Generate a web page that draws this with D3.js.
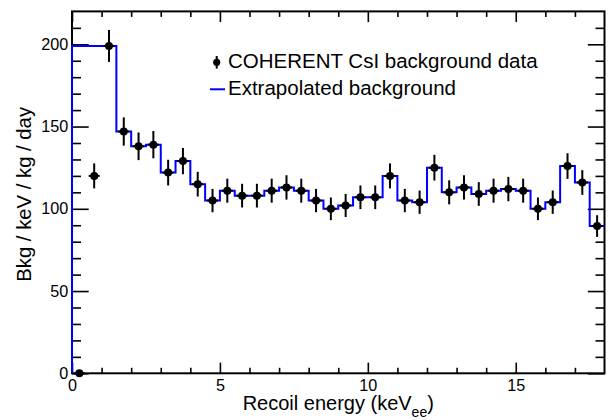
<!DOCTYPE html>
<html>
<head>
<meta charset="utf-8">
<script src="https://cdn.jsdelivr.net/npm/d3@7"></script>
<style>
  html, body { margin: 0; padding: 0; background: #fff; }
  svg { display: block; font-family: "Liberation Sans", Arial, Helvetica, sans-serif; }
</style>
</head>
<body>
<svg id="chart" width="615" height="420"></svg>
<script>
// Bin centres (keV_ee), 0.5 keV wide bins
const energies = [0.25, 0.75, 1.25, 1.75, 2.25, 2.75, 3.25, 3.75, 4.25, 4.75,
                  5.25, 5.75, 6.25, 6.75, 7.25, 7.75, 8.25, 8.75, 9.25, 9.75,
                  10.25, 10.75, 11.25, 11.75, 12.25, 12.75, 13.25, 13.75, 14.25, 14.75,
                  15.25, 15.75, 16.25, 16.75, 17.25, 17.75];
const binWidth = 0.5;

// Measured CsI background rate (Bkg / keV / kg / day) and its uncertainty
const dataRate = [0, 120, 199, 147, 138, 139, 122, 129, 115, 105,
                  111, 108, 108, 111, 113, 111, 105, 100, 102, 107,
                  107, 120, 105, 104, 125, 110, 113, 109, 111, 112,
                  111, 100, 104, 126, 116, 89.5];
const dataErr  = [0, 7.6, 9.7, 8.6, 8.4, 8.3, 7.8, 8.0, 7.5, 7.1,
                  7.3, 7.2, 7.2, 7.3, 7.4, 7.3, 7.1, 6.9, 7.0, 7.2,
                  7.2, 7.6, 7.1, 7.1, 7.8, 7.3, 7.4, 7.2, 7.3, 7.4,
                  7.3, 6.9, 7.1, 7.8, 7.5, 6.6];

// Extrapolated background histogram (flat below 1.5 keV)
const extrapRate = [199, 199, 199, 147, 138, 139, 122, 129, 115, 105,
                    111, 108, 108, 111, 113, 111, 105, 100, 102, 107,
                    107, 120, 105, 104, 125, 110, 113, 109, 111, 112,
                    111, 100, 104, 126, 116, 89.5];

// Axis ticks
const xMajorTicks = [0, 5, 10, 15];
const xMinorTicks = [1, 2, 3, 4, 6, 7, 8, 9, 11, 12, 13, 14, 16, 17];
const yMajorTicks = [0, 50, 100, 150, 200];
const yMinorTicks = [10, 20, 30, 40, 60, 70, 80, 90, 110, 120, 130, 140, 160, 170, 180, 190, 210];

const legendLabels = ["COHERENT CsI background data", "Extrapolated background"];

const svg = d3.select("#chart");
const frameL = 72, frameR = 604.5, frameT = 11.4, frameB = 373.3;

const x = d3.scaleLinear().domain([0, 18]).range([frameL, frameR]);
const y = d3.scaleLinear().domain([0, 220]).range([frameB, frameT]);

const font = "'Liberation Sans', Arial, Helvetica, sans-serif";

// Frame
svg.append("rect")
  .attr("x", frameL).attr("y", frameT)
  .attr("width", frameR - frameL).attr("height", frameB - frameT)
  .attr("fill", "none").attr("stroke", "#000").attr("stroke-width", 2);

function styleAxis(g) {
  g.select(".domain").remove();
  g.selectAll(".tick line").attr("stroke", "#000").attr("stroke-width", 1.6);
  g.selectAll("text").attr("font-family", font).attr("font-size", 16.2).attr("fill", "#000");
}

// Bottom axis: major + minor ticks pointing into the frame
svg.append("g").attr("transform", `translate(0,${frameB})`)
  .call(d3.axisBottom(x).tickValues(xMajorTicks).tickSize(-10.7).tickPadding(6.6).tickFormat(d3.format("d")))
  .call(styleAxis);
svg.append("g").attr("transform", `translate(0,${frameB})`)
  .call(d3.axisBottom(x).tickValues(xMinorTicks).tickSize(-5.5).tickFormat(""))
  .call(styleAxis);

// Top mirrored ticks
svg.append("g").attr("transform", `translate(0,${frameT})`)
  .call(d3.axisTop(x).tickValues(xMajorTicks).tickSize(-10.7).tickFormat(""))
  .call(styleAxis);
svg.append("g").attr("transform", `translate(0,${frameT})`)
  .call(d3.axisTop(x).tickValues(xMinorTicks).tickSize(-5.5).tickFormat(""))
  .call(styleAxis);

// Left axis
svg.append("g").attr("transform", `translate(${frameL},0)`)
  .call(d3.axisLeft(y).tickValues(yMajorTicks).tickSize(-16.7).tickPadding(3.8).tickFormat(d3.format("d")))
  .call(styleAxis);
svg.append("g").attr("transform", `translate(${frameL},0)`)
  .call(d3.axisLeft(y).tickValues(yMinorTicks).tickSize(-9).tickFormat(""))
  .call(styleAxis);

// Right mirrored ticks
svg.append("g").attr("transform", `translate(${frameR},0)`)
  .call(d3.axisRight(y).tickValues(yMajorTicks).tickSize(-16.7).tickFormat(""))
  .call(styleAxis);
svg.append("g").attr("transform", `translate(${frameR},0)`)
  .call(d3.axisRight(y).tickValues(yMinorTicks).tickSize(-9).tickFormat(""))
  .call(styleAxis);

// Extrapolated background step histogram
const steps = [[0, 0]];
energies.forEach((e, i) => {
  steps.push([e - binWidth / 2, extrapRate[i]]);
  steps.push([e + binWidth / 2, extrapRate[i]]);
});
svg.append("path")
  .datum(steps)
  .attr("fill", "none")
  .attr("stroke", "#0000ff")
  .attr("stroke-width", 2)
  .attr("d", d3.line().x(d => x(d[0])).y(d => y(d[1])));

// Data points with error bars
const pts = energies.map((e, i) => ({ e, v: dataRate[i], err: dataErr[i] }));
const pg = svg.append("g");
pg.selectAll("line.ey").data(pts).join("line")
  .attr("class", "ey")
  .attr("x1", d => x(d.e)).attr("x2", d => x(d.e))
  .attr("y1", d => y(d.v - d.err)).attr("y2", d => y(d.v + d.err))
  .attr("stroke", "#000").attr("stroke-width", 2);
pg.selectAll("line.ex").data(pts).join("line")
  .attr("class", "ex")
  .attr("x1", d => x(d.e) - 5.5).attr("x2", d => x(d.e) + 5.5)
  .attr("y1", d => y(d.v)).attr("y2", d => y(d.v))
  .attr("stroke", "#000").attr("stroke-width", 2);
pg.selectAll("circle").data(pts).join("circle")
  .attr("cx", d => x(d.e)).attr("cy", d => y(d.v))
  .attr("r", 4).attr("fill", "#000");

// Legend
const lg = svg.append("g");
lg.append("line").attr("x1", 216.7).attr("x2", 216.7).attr("y1", 56).attr("y2", 68.6)
  .attr("stroke", "#000").attr("stroke-width", 2);
lg.append("circle").attr("cx", 216.7).attr("cy", 62.3).attr("r", 3.6).attr("fill", "#000");
lg.append("text").attr("x", 228).attr("y", 68.3)
  .attr("font-family", font).attr("font-size", 20.5).text(legendLabels[0]);
lg.append("line").attr("x1", 210).attr("x2", 225).attr("y1", 89.3).attr("y2", 89.3)
  .attr("stroke", "#0000ff").attr("stroke-width", 2);
lg.append("text").attr("x", 228).attr("y", 95)
  .attr("font-family", font).attr("font-size", 20.5).text(legendLabels[1]);

// Axis titles
const xt = svg.append("text")
  .attr("x", (frameL + frameR) / 2).attr("y", 410)
  .attr("text-anchor", "middle")
  .attr("font-family", font).attr("font-size", 20);
xt.append("tspan").text("Recoil energy (keV");
xt.append("tspan").attr("font-size", 14).attr("dy", 7).text("ee");
xt.append("tspan").attr("dy", -7).text(")");

svg.append("text")
  .attr("transform", `translate(31,${(frameT + frameB) / 2 + 2}) rotate(-90)`)
  .attr("text-anchor", "middle")
  .attr("font-family", font).attr("font-size", 20.3)
  .text("Bkg / keV / kg / day");
</script>
</body>
</html>
